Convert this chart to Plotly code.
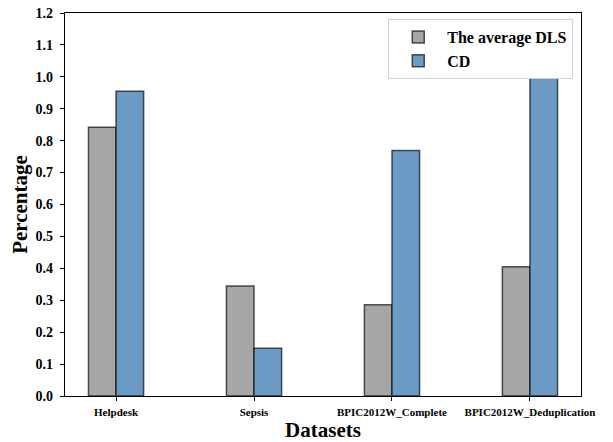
import plotly.graph_objects as go

categories = ["Helpdesk", "Sepsis", "BPIC2012W_Complete", "BPIC2012W_Deduplication"]
avg_dls = [0.842, 0.345, 0.286, 0.405]
cd = [0.955, 0.150, 0.769, 0.996]
series_names = ["The average DLS", "CD"]
y_ticks = [round(i * 0.1, 1) for i in range(13)]

font_family = "Liberation Serif, Times New Roman, serif"

fig = go.Figure()
fig.add_trace(go.Bar(
    x=categories, y=avg_dls, name=series_names[0],
    marker=dict(color="#a6a6a6", line=dict(color="rgba(0,0,0,0.65)", width=1.5)),
))
fig.add_trace(go.Bar(
    x=categories, y=cd, name=series_names[1],
    marker=dict(color="#6b9bc4", line=dict(color="rgba(0,0,0,0.65)", width=1.5)),
))

fig.update_layout(
    width=613, height=442,
    margin=dict(l=65, r=32, t=13, b=46),
    barmode="group", bargap=0.6, bargroupgap=0,
    plot_bgcolor="white", paper_bgcolor="white",
    font=dict(family=font_family, color="black"),
    showlegend=True,
    legend=dict(
        x=0.985, y=0.984, xanchor="right", yanchor="top",
        bgcolor="white", bordercolor="#d0d0d0", borderwidth=1,
        font=dict(size=16, family=font_family, color="black", weight="bold"),
        itemwidth=48, tracegroupgap=0,
    ),
)
fig.update_xaxes(
    range=[-0.37, 3.37], automargin=False,
    showline=True, linecolor="black", linewidth=1.2, mirror=True,
    ticks="outside", ticklen=4, tickcolor="black", tickwidth=1,
    ticklabelstandoff=2,
    tickfont=dict(size=11, family=font_family, color="black", weight="bold"),
    title=dict(text="Datasets", font=dict(size=21, family=font_family, color="black", weight="bold"), standoff=2),
    showgrid=False,
)
fig.update_yaxes(
    range=[0, 1.2], tickvals=y_ticks, ticktext=[f"{v:.1f}" for v in y_ticks],
    automargin=False,
    showline=True, linecolor="black", linewidth=1.2, mirror=True,
    ticks="outside", ticklen=4, tickcolor="black", tickwidth=1,
    ticklabelstandoff=4,
    tickfont=dict(size=14, family=font_family, color="black", weight="bold"),
    title=dict(text="Percentage", font=dict(size=21, family=font_family, color="black", weight="bold"), standoff=2),
    showgrid=False, zeroline=False,
)

fig.write_html("out.html", config={"displayModeBar": False},
               post_script="document.body.style.margin='0';")
